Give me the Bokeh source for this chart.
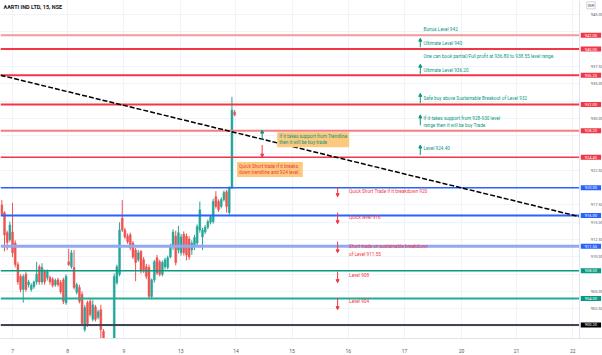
from bokeh.plotting import figure
from bokeh.models import (Label, Arrow, NormalHead, FixedTicker, SingleIntervalTicker,
                          NumeralTickFormatter, ColumnDataSource, BoxAnnotation)
from bokeh.embed import file_html
from bokeh.resources import INLINE

# ---------------- data ----------------
title = "AARTI IND LTD, 15, NSE"

bar = list(range(88))
opn = [917.5, 916.4, 913.5, 912.5, 913.6, 912.0, 908.9, 907.2, 905.3, 907.5,
       906.0, 905.3, 905.7, 906.4, 908.6, 906.4, 907.9, 907.0, 907.0, 906.8,
       906.0, 906.7, 906.3, 906.7, 903.4, 909.3, 908.6, 908.5, 904.9, 905.6,
       904.6, 899.5, 903.4, 903.6, 901.0, 902.8, 901.3, 902.4, 899.3, 896.6,
       897.0, 895.8, 896.0, 906.3, 907.5, 915.6, 913.9, 913.0, 913.2, 912.0,
       911.0, 909.6, 910.8, 909.6, 908.6, 908.5, 904.3, 906.7, 909.9, 909.3,
       907.5, 908.6, 908.5, 910.0, 911.5, 913.0, 911.0, 910.6, 913.3, 913.0,
       912.6, 911.0, 911.5, 912.0, 913.9, 912.9, 913.6, 914.3, 915.0, 915.1,
       918.7, 918.0, 917.3, 918.3, 919.4, 916.4, 920.0, 930.9]
high = [918.2, 916.6, 913.8, 915.1, 917.8, 912.4, 909.3, 907.5, 907.5, 907.9,
        906.7, 906.2, 906.6, 909.3, 908.9, 909.1, 908.2, 908.2, 907.3, 907.1,
        906.9, 907.0, 906.7, 907.0, 907.5, 911.2, 911.0, 911.0, 906.3, 906.0,
        905.0, 903.1, 903.7, 904.0, 903.8, 903.1, 902.4, 903.1, 899.6, 897.6,
        897.3, 896.6, 907.6, 908.9, 915.0, 918.2, 914.2, 913.4, 913.5, 912.3,
        911.3, 911.0, 911.0, 910.0, 909.0, 908.9, 906.9, 909.6, 910.3, 909.6,
        909.5, 909.9, 910.2, 911.9, 914.0, 913.8, 914.5, 913.3, 913.7, 913.4,
        913.0, 912.4, 913.2, 914.7, 918.0, 914.2, 914.6, 915.4, 916.1, 918.4,
        919.5, 918.3, 918.6, 919.6, 919.7, 920.2, 933.1, 931.2]
low = [915.9, 910.8, 911.0, 912.2, 910.0, 908.5, 906.0, 904.9, 903.4, 905.0,
       905.6, 905.0, 905.4, 906.0, 906.0, 906.0, 906.0, 906.6, 906.0, 905.6,
       905.7, 905.7, 904.7, 903.2, 903.1, 908.7, 908.3, 905.3, 904.6, 903.3,
       900.2, 899.2, 899.9, 901.4, 900.7, 900.7, 901.0, 897.8, 896.2, 895.9,
       895.4, 895.2, 895.5, 906.0, 907.2, 913.6, 912.6, 911.9, 911.0, 909.7,
       906.5, 909.3, 907.6, 907.7, 906.8, 904.1, 904.0, 906.3, 907.4, 907.2,
       907.2, 908.2, 908.2, 909.8, 911.0, 908.8, 910.5, 910.2, 910.2, 909.5,
       909.6, 910.3, 911.0, 911.5, 913.5, 911.0, 913.3, 914.0, 914.7, 914.8,
       917.0, 916.5, 917.0, 918.0, 916.4, 916.0, 919.8, 930.3]
close = [916.1, 913.2, 912.1, 914.6, 910.6, 908.9, 906.4, 905.3, 907.2, 905.3,
         906.4, 905.9, 906.4, 907.5, 906.4, 908.5, 906.4, 907.9, 906.4, 905.9,
         906.6, 906.0, 905.0, 903.6, 907.2, 908.9, 910.6, 905.6, 906.0, 903.6,
         900.4, 902.7, 900.4, 901.7, 903.1, 901.0, 902.1, 899.5, 896.6, 897.2,
         895.8, 896.3, 907.2, 908.6, 913.9, 913.9, 912.9, 912.2, 911.3, 910.0,
         909.2, 910.6, 908.0, 908.0, 907.2, 904.3, 906.7, 909.3, 907.7, 907.5,
         909.2, 909.6, 909.9, 911.5, 913.6, 909.2, 913.5, 912.9, 910.6, 910.3,
         910.0, 912.0, 912.8, 914.4, 916.8, 913.9, 914.3, 915.1, 915.8, 918.0,
         917.3, 916.8, 918.3, 919.3, 917.3, 920.0, 931.2, 930.5]

day_labels = ["7", "8", "9", "13", "14", "15", "16", "17", "20", "21", "22"]
day_ticks = [4.0, 24.6, 45.6, 66.9, 87.5, 108.5, 129.5, 150.5, 171.8, 192.4, 213.4]

# price-scale ticks hidden behind the level tags
hidden_price_ticks = [942.5, 940.0, 932.5, 927.5, 925.0, 920.0, 907.5, 900.0]

level_values = [942.00, 940.00, 936.20, 932.00, 928.20, 924.40, 920.00, 916.00, 911.55, 908.00, 904.00, 900.20]
level_labels = ["942.00", "940.00", "936.20", "932.00", "928.20", "924.40", "920.00", "916.00", "911.55", "908.00", "904.00", "900.20"]
level_line_colors = ["#f59a9a", "#f23645", "#f23645", "#f23645", "#f77c80", "#f23645",
                     "#2962ff", "#2962ff", "#91a8f6", "#089981", "#22ab94", "#434651"]
level_box_colors = ["#f23645", "#f23645", "#f23645", "#f23645", "#f23645", "#f23645",
                    "#2962ff", "#2962ff", "#2962ff", "#089981", "#089981", "#000000"]
level_widths = [2, 2, 2, 2, 2, 1.5, 1.5, 2, 3, 1.5, 2, 2]

trend_x = [-0.5, 216.0]
trend_y = [936.22, 915.8]

buy_notes = ["Bonus Level 942", "Ultimate Level 940",
             "One can book partial/Full profit at 936.80 to 938.55 level range.",
             "Ultimate Level 936.20", "Safe buy above Sustainable Breakout of Level 932",
             "If it takes support from 928-930 level", "range then it will be buy Trade.",
             "Level 924.40"]
buy_note_y = [942.84, 940.83, 938.96, 936.94, 932.91, 930.04, 928.90, 925.58]
buy_arrows = [(940.25, 941.55), (936.4, 937.8), (932.2, 933.6), (929.0, 930.5), (924.7, 926.15)]

sell_notes = ["Quick Short Trade if it breakdown 920", "Quick level 916",
              "Short trade on sustainable breakdown", "of Level 911.55",
              "Level 908", "Level 904"]
sell_note_y = [919.39, 915.65, 911.47, 910.30, 907.30, 903.56]
sell_arrows = [(920.1, 918.7), (916.4, 914.8), (912.2, 910.6), (907.9, 906.3), (904.1, 902.4)]

# ---------------- figure ----------------
FONT = "Roboto"
UP, DOWN = "#26a69a", "#ef5350"
TEAL_TXT, RED_TXT = "#089981", "#f23645"
X0, XAXIS, X1 = -0.5, 216.0, 224.5
NOTE_SIZE = "4.7px"

p = figure(width=602, height=355, x_range=(X0, X1), y_range=(898.24, 947.0),
           toolbar_location=None, output_backend="svg", y_axis_location="right",
           min_border_left=0, min_border_top=0, min_border_right=0, min_border_bottom=16)
p.outline_line_color = None
p.background_fill_color = "white"

p.xaxis.ticker = FixedTicker(ticks=day_ticks)
p.xaxis.major_label_overrides = {t: l for t, l in zip(day_ticks, day_labels)}
p.yaxis.ticker = SingleIntervalTicker(interval=2.5)
p.yaxis.formatter = NumeralTickFormatter(format="0.00")
p.yaxis.major_label_overrides = {t: "" for t in hidden_price_ticks}
p.yaxis.fixed_location = XAXIS
for ax in (p.xaxis[0], p.yaxis[0]):
    ax.major_tick_line_color = None
    ax.minor_tick_line_color = None
    ax.axis_line_color = "#e0e3eb"
    ax.major_label_text_font = FONT
    ax.major_label_text_color = "#555a66"
p.yaxis.major_label_text_font_size = "4px"
p.xaxis.major_label_text_font_size = "5px"
p.yaxis.major_label_standoff = 5
p.xaxis.major_label_standoff = 4
p.xgrid.ticker = FixedTicker(ticks=day_ticks)
p.ygrid.ticker = SingleIntervalTicker(interval=2.5)
p.xgrid.grid_line_color = "#f0f3fa"
p.ygrid.grid_line_color = "#f0f3fa"
p.add_layout(BoxAnnotation(left=XAXIS, fill_color="white", fill_alpha=1.0, line_color=None, level="underlay"))

# candles
inc = [i for i in range(len(bar)) if close[i] >= opn[i]]
dec = [i for i in range(len(bar)) if close[i] < opn[i]]
for idx, col in ((inc, UP), (dec, DOWN)):
    src = ColumnDataSource(dict(x=[bar[i] for i in idx], o=[opn[i] for i in idx], h=[high[i] for i in idx],
                                l=[low[i] for i in idx], c=[close[i] for i in idx]))
    p.segment("x", "h", "x", "l", source=src, color=col, line_width=1)
    p.vbar("x", 0.7, "o", "c", source=src, fill_color=col, line_color=col, line_width=0.5)

# levels
lsrc = ColumnDataSource(dict(y=level_values, c=level_line_colors, w=level_widths,
                             x0=[X0] * len(level_values), x1=[XAXIS] * len(level_values)))
p.segment("x0", "y", "x1", "y", source=lsrc, line_color="c", line_width="w")

# trendline
p.line(trend_x, trend_y, line_color="black", line_width=1.5, line_dash="5 2")

def add_label(**kw):
    base = dict(text_font=FONT, text_font_size=NOTE_SIZE)
    base.update(kw)
    p.add_layout(Label(**base))

# title
add_label(x=0.6, y=946.0, text=title, text_color="#131722", text_font_style="bold",
          text_baseline="middle", text_font_size="5.5px")

# right price tags
for v, t, bc in zip(level_values, level_labels, level_box_colors):
    add_label(x=XAXIS, x_offset=1, y=v, text=t, text_color="white", text_baseline="middle",
              text_font_size="4px", background_fill_color=bc, padding=(4, 1))
add_label(x=XAXIS, x_offset=7, y=946.3, text="INR", text_color="#555a66", text_baseline="middle",
          text_font_size="4px", border_line_color="#d1d4dc", padding=(1, 1))

# buy notes
for t, y in zip(buy_notes, buy_note_y):
    add_label(x=157.6, y=y, text=t, text_color=TEAL_TXT, text_baseline="middle")
for y0, y1 in buy_arrows:
    p.add_layout(Arrow(end=NormalHead(size=3, fill_color=TEAL_TXT, line_color=TEAL_TXT),
                       x_start=156.4, y_start=y0, x_end=156.4, y_end=y1,
                       line_color=TEAL_TXT, line_width=1))
# sell notes
for t, y in zip(sell_notes, sell_note_y):
    add_label(x=129.8, y=y, text=t, text_color=RED_TXT, text_baseline="middle")
for y0, y1 in sell_arrows:
    p.add_layout(Arrow(end=NormalHead(size=3, fill_color=RED_TXT, line_color=RED_TXT),
                       x_start=125.5, y_start=y0, x_end=125.5, y_end=y1,
                       line_color=RED_TXT, line_width=1))

# callouts
add_label(x=102.9, y=928.0, text="If it takes support from Trendline\nthen it will be buy trade",
          text_color=TEAL_TXT, text_baseline="top", background_fill_color="#fcc97f", padding=(2, 2))
add_label(x=87.9, y=923.7, text="Quick Short trade if it breaks\ndown trendline and 924 level .",
          text_color=RED_TXT, text_baseline="top", background_fill_color="#fcc97f", padding=(2, 2))
p.add_layout(Arrow(end=NormalHead(size=3, fill_color=TEAL_TXT, line_color=TEAL_TXT),
                   x_start=97.3, y_start=926.9, x_end=97.3, y_end=928.3, line_color=TEAL_TXT, line_width=1))
p.add_layout(Arrow(end=NormalHead(size=3, fill_color=RED_TXT, line_color=RED_TXT),
                   x_start=97.3, y_start=926.15, x_end=97.3, y_end=924.4, line_color=RED_TXT, line_width=1))

open("out.html", "w").write(file_html(p, INLINE))
